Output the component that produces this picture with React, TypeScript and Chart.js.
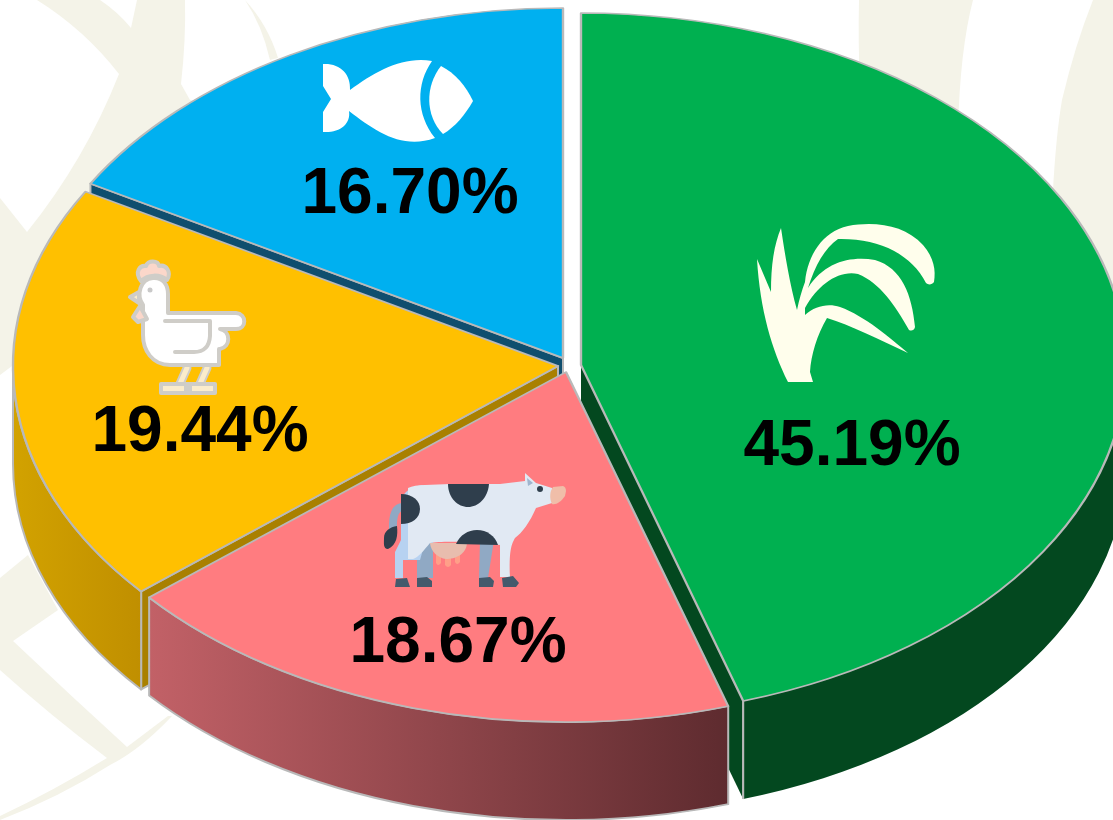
import React, { useEffect, useRef } from "react";
import { Chart, registerables } from "chart.js";

Chart.register(...registerables);

const categories = ["Crops", "Cattle", "Poultry", "Fish"];
const shares = [45.19, 18.67, 19.44, 16.7];
const shareLabels = ["45.19%", "18.67%", "19.44%", "16.70%"];
const topColors = ["#00b050", "#ff7c80", "#ffc000", "#00b0f0"];
const wallFrom = ["#03481f", "#c26167", "#d2a200", "#0f4e6e"];
const wallTo = ["#03481f", "#5e2b2f", "#c08f00", "#0f4e6e"];
const edgeColors = ["#03481f", "#5e2b2f", "#a98000", "#0f4e6e"];

const W = 1113;
const H = 820;
const RX = 545;
const RYS = [352, 350, 350, 350];
const DEPTH = 98;
const APEX = [
  [581, 365],
  [566, 372],
  [558, 366],
  [563, 358],
];
const PAINT_ORDER = [3, 2, 0, 1];
const LABEL_POS = [
  [852, 465],
  [458, 662],
  [200, 451],
  [410, 213],
];
const BORDER = "#b9b9b9";
const BEIGE = "#f4f3e8";

function drawBackground(ctx: CanvasRenderingContext2D) {
  ctx.save();
  ctx.fillStyle = "#ffffff";
  ctx.fillRect(0, 0, W, H);
  ctx.fillStyle = BEIGE;
  ctx.fill(
    new Path2D(
      "M37 0 Q85 30 119 74 Q85 160 27 232 L0 198 L0 375 L100 300 L300 120 L190 100 L181 84 Q186 40 185 0 L137 0 L131 28 Q118 12 100 0 Z"
    )
  );
  ctx.fill(new Path2D("M245 0 Q268 25 278 58 L270 60 Q262 25 245 0 Z"));
  ctx.fill(
    new Path2D(
      "M0 578 L28 555 L58 610 L13 641 Q70 695 127 747 L168 716 L172 716 Q140 750 110 765 Q60 797 0 820 L0 816 Q55 790 107 758 Q50 715 0 670 Z"
    )
  );
  ctx.fill(new Path2D("M859 0 L973 0 Q960 50 958 130 L860 90 Q858 40 859 0 Z"));
  ctx.fill(new Path2D("M1093 0 L1113 0 L1113 320 L1050 320 Q1050 170 1062 100 Q1075 45 1093 0 Z"));
  ctx.restore();
}

function drawFish(ctx: CanvasRenderingContext2D) {
  ctx.fillStyle = "#ffffff";
  ctx.fill(
    new Path2D(
      "M323 64 C340 63 351 74 350 90 C375 72 402 56 432 61 C416 84 416 114 435 138 C402 150 375 131 349 111 C351 124 340 133 323 132 L323 112 L331 99 L323 86 Z"
    )
  );
  ctx.fill(new Path2D("M441 66 C455 73 466 86 473 101 C465 115 455 127 443 134 C425 116 425 86 441 66 Z"));
}

function drawRice(ctx: CanvasRenderingContext2D) {
  ctx.fillStyle = "#fffeec";
  ctx.fill(
    new Path2D(
      "M788 382 C772 350 760 310 757 259 L771 292 C771 265 774 245 781 228 C785 255 790 285 797 310 C799 300 802 290 805 282 C808 255 822 232 848 226 C875 221 905 225 923 245 C934 258 936 270 934 282 C932 285 928 285 926 283 C912 255 880 238 838 239 C825 248 815 265 808 288 C825 262 850 256 875 260 C902 268 912 295 915 327 C914 331 911 331 909 330 C895 305 880 283 858 274 C838 270 818 285 805 308 L805 315 C815 306 828 303 840 307 C865 316 890 338 908 353 C880 340 850 325 827 318 C817 335 811 355 810 372 L813 382 Z"
    )
  );
}

function drawChicken(ctx: CanvasRenderingContext2D) {
  ctx.save();
  ctx.lineJoin = "round";
  ctx.lineCap = "round";
  ctx.strokeStyle = "#cfcdc8";
  ctx.lineWidth = 4;
  ctx.fillStyle = "#fbd7ca";
  const comb = new Path2D("M141 281 C134 272 140 265 146 266 C148 260 158 260 159 266 C166 264 172 272 167 280 C160 274 148 274 141 281 Z");
  ctx.fill(comb);
  ctx.stroke(comb);
  ctx.fillStyle = "#fbeccb";
  const beak = new Path2D("M130 297 L139 292 L139 303 Z");
  ctx.fill(beak);
  ctx.stroke(beak);
  ctx.beginPath();
  ctx.moveTo(187, 368);
  ctx.lineTo(179, 386);
  ctx.moveTo(207, 368);
  ctx.lineTo(199, 386);
  ctx.strokeStyle = "#cfcdc8";
  ctx.lineWidth = 9;
  ctx.stroke();
  ctx.strokeStyle = "#fbeccb";
  ctx.lineWidth = 5;
  ctx.stroke();
  ctx.strokeStyle = "#cfcdc8";
  ctx.lineWidth = 4;
  ctx.fillStyle = "#fbeccb";
  const feet = new Path2D("M161 384 L190 384 L190 393 L161 393 Z M186 384 L215 384 L215 393 L186 393 Z");
  ctx.fill(feet);
  ctx.stroke(feet);
  ctx.fillStyle = "#ffffff";
  const body = new Path2D(
    "M143 322 L143 305 C136 295 140 279 153 278 C163 277 168 285 168 294 L168 313 L236 313 C247 314 247 329 236 329 L220 329 C231 331 231 347 220 349 L219 349 L219 365 L170 365 C152 365 143 350 143 335 Z"
  );
  ctx.fill(body);
  ctx.stroke(body);
  ctx.fillStyle = "#fbd7ca";
  const wattle = new Path2D("M140 306 L133 317 L138 322 L147 319 Z");
  ctx.fill(wattle);
  ctx.stroke(wattle);
  ctx.beginPath();
  ctx.moveTo(165, 321);
  ctx.lineTo(210, 321);
  ctx.lineTo(210, 336);
  ctx.quadraticCurveTo(209, 352, 194, 352);
  ctx.lineTo(175, 352);
  ctx.stroke();
  ctx.fillStyle = "#c9c9c9";
  ctx.beginPath();
  ctx.arc(150, 290, 2.5, 0, Math.PI * 2);
  ctx.fill();
  ctx.restore();
}

function drawCow(ctx: CanvasRenderingContext2D) {
  const dark = "#2f3e4c";
  const legs = "#90a9c4";
  ctx.save();
  ctx.fillStyle = legs;
  ctx.fill(new Path2D("M417 548 L433 540 L433 578 L417 578 Z M480 540 L494 540 L488 578 L479 578 Z"));
  ctx.strokeStyle = legs;
  ctx.lineWidth = 8;
  ctx.beginPath();
  ctx.moveTo(403, 507);
  ctx.quadraticCurveTo(392, 507, 393, 530);
  ctx.stroke();
  ctx.fillStyle = dark;
  ctx.fill(new Path2D("M397 526 C398 535 397 545 388 549 C383 549 384 543 384 538 C384 531 390 527 397 526 Z"));
  ctx.fillStyle = "#ff9f88";
  ctx.fill(new Path2D("M436 553 L441 553 L441 563 Q438 567 436 563 Z M445 553 L451 553 L451 565 Q448 569 445 565 Z M455 553 L460 553 L460 562 Q457 566 455 562 Z"));
  ctx.fillStyle = "#e8bdae";
  ctx.fill(new Path2D("M430 543 L467 543 C466 555 455 559 446 559 C438 558 431 552 430 543 Z"));
  ctx.fillStyle = "#b7d2f1";
  ctx.fill(new Path2D("M395 578 L395 552 L401 540 L401 500 C404 492 410 487 422 485 L440 490 L420 560 L403 560 L403 578 Z"));
  ctx.fillStyle = "#e1e9f3";
  ctx.fill(
    new Path2D(
      "M408 488 C412 486 418 485 425 485 L450 484 L500 484 L525 481 L525 473 L536 483 L552 488 L552 503 L536 508 C530 522 522 533 515 538 C511 545 509 552 510 577 L500 577 L500 545 C470 541 440 541 430 543 C424 550 418 558 413 559 L408 559 Z"
    )
  );
  ctx.fillStyle = "#9fb5ce";
  ctx.fill(new Path2D("M527 478 L533 483 L528 486 Z"));
  ctx.fillStyle = "#f0bea9";
  ctx.fill(new Path2D("M553 487 L563 486 Q566 487 566 491 L565 496 C561 502 556 505 552 504 C549 498 550 491 553 487 Z"));
  ctx.fillStyle = dark;
  ctx.fill(new Path2D("M448 484 L489 484 C488 498 478 507 468 507 C458 507 448 498 448 484 Z"));
  ctx.fill(new Path2D("M401 494 C413 494 420 501 420 509 C420 518 412 524 401 524 Z"));
  ctx.fill(new Path2D("M456 544 C460 535 468 530 477 530 C487 530 495 536 498 545 Z"));
  ctx.beginPath();
  ctx.arc(540, 489, 3, 0, Math.PI * 2);
  ctx.fill();
  ctx.fillStyle = "#445a6c";
  ctx.fill(new Path2D("M396 579 L407 578 L410 587 L395 587 Z M417 578 L427 577 L432 581 L432 587 L417 587 Z M479 578 L490 577 L494 581 L493 587 L479 587 Z M502 578 L513 576 L519 583 L516 587 L503 587 Z"));
  ctx.restore();
}

const pie3d = {
  id: "pie3d",
  beforeDraw(chart: any) {
    drawBackground(chart.ctx);
  },
  beforeDatasetDraw(chart: any, args: any) {
    const ctx: CanvasRenderingContext2D = chart.ctx;
    const arcs = chart.getDatasetMeta(args.index).data;
    PAINT_ORDER.forEach((i) => {
      const arc = arcs[i];
      const { x, y, startAngle, endAngle, outerRadius } = arc.getProps(["x", "y", "startAngle", "endAngle", "outerRadius"]);
      const [ax, ay] = APEX[i];
      const RY = RYS[i];
      ctx.save();
      ctx.lineWidth = 2;
      ctx.strokeStyle = BORDER;
      ctx.lineJoin = "round";
      // the radial cut facing the viewer: the end of the first slice, the start of the last two
      const cut = i === 0 ? endAngle : startAngle;
      const ex = ax + RX * Math.cos(cut);
      const ey = ay + RY * Math.sin(cut);
      if (i !== 1) {
        ctx.beginPath();
        ctx.moveTo(ax, ay);
        ctx.lineTo(ex, ey);
        ctx.lineTo(ex, ey + DEPTH);
        ctx.lineTo(ax, ay + DEPTH);
        ctx.closePath();
        ctx.fillStyle = edgeColors[i];
        ctx.fill();
        if (i === 0) {
          ctx.beginPath();
          ctx.moveTo(ex, ey);
          ctx.lineTo(ex, ey + DEPTH);
        }
        ctx.stroke();
      }
      const a0 = Math.max(startAngle, 0);
      const a1 = Math.min(endAngle, Math.PI);
      if (a1 > a0) {
        const xs = [ax + RX * Math.cos(a0), ax + RX * Math.cos(a1)];
        const g = ctx.createLinearGradient(Math.min(...xs), 0, Math.max(...xs), 0);
        g.addColorStop(0, wallFrom[i]);
        g.addColorStop(1, wallTo[i]);
        ctx.beginPath();
        ctx.ellipse(ax, ay, RX, RY, 0, a0, a1);
        ctx.ellipse(ax, ay + DEPTH, RX, RY, 0, a1, a0, true);
        ctx.closePath();
        ctx.fillStyle = g;
        ctx.fill();
        if (i === 0) {
          ctx.beginPath();
          ctx.moveTo(ex, ey);
          ctx.lineTo(ex, ey + DEPTH);
        }
        ctx.stroke();
      }
      ctx.translate(ax, ay);
      ctx.scale(RX / outerRadius, RY / outerRadius);
      ctx.translate(-x, -y);
      arc.draw(ctx);
      ctx.restore();
    });
    return false;
  },
  afterDatasetsDraw(chart: any) {
    const ctx: CanvasRenderingContext2D = chart.ctx;
    drawFish(ctx);
    drawRice(ctx);
    drawChicken(ctx);
    drawCow(ctx);
    ctx.save();
    ctx.fillStyle = "#000000";
    ctx.font = 'bold 64px "Liberation Sans", Arial, sans-serif';
    ctx.textAlign = "center";
    ctx.textBaseline = "alphabetic";
    shareLabels.forEach((t, i) => ctx.fillText(t, LABEL_POS[i][0], LABEL_POS[i][1]));
    ctx.restore();
  },
};

export default function App() {
  const ref = useRef<HTMLCanvasElement | null>(null);
  useEffect(() => {
    document.body.style.margin = "0";
    const chart = new Chart(ref.current as HTMLCanvasElement, {
      type: "pie",
      data: {
        labels: categories,
        datasets: [
          {
            data: shares,
            backgroundColor: topColors,
            borderColor: BORDER,
            borderWidth: 1.8,
            borderJoinStyle: "round",
          },
        ],
      },
      options: {
        responsive: false,
        animation: false,
        devicePixelRatio: 1,
        events: [],
        layout: { padding: 0 },
        plugins: { legend: { display: false }, tooltip: { enabled: false } },
      },
      plugins: [pie3d],
    } as any);
    return () => chart.destroy();
  }, []);
  return (
    <div style={{ position: "fixed", left: 0, top: 0, width: W, height: H, overflow: "hidden", background: "#fff" }}>
      <canvas ref={ref} width={W} height={H} style={{ display: "block" }} />
    </div>
  );
}
